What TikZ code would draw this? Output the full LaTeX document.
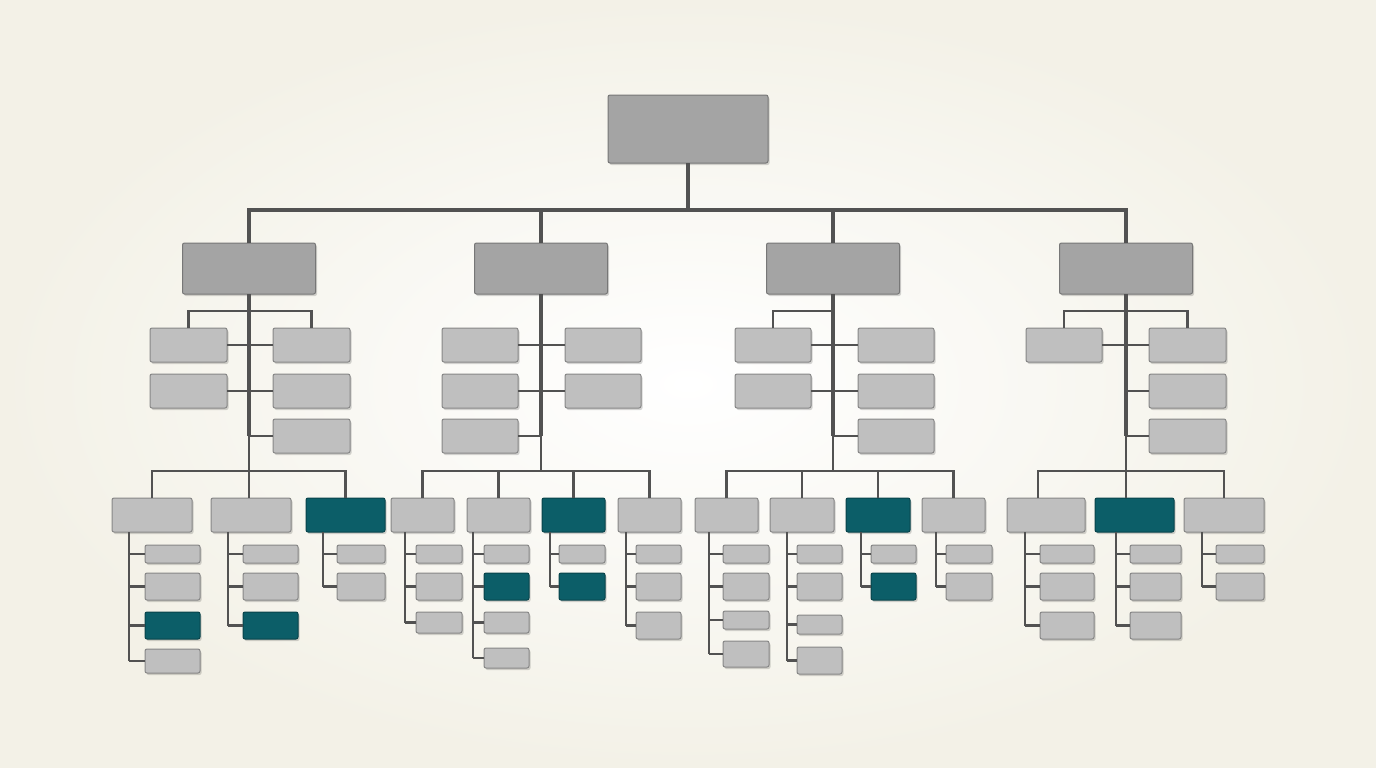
\documentclass[tikz,border=0pt]{standalone}
\usetikzlibrary{shadows}
\definecolor{bgout}{HTML}{F3F1E7}
\definecolor{topfill}{HTML}{A4A4A4}
\definecolor{topdraw}{HTML}{777777}
\definecolor{gfill}{HTML}{BFBFBF}
\definecolor{gdraw}{HTML}{878787}
\definecolor{tfill}{HTML}{0C5E68}
\definecolor{tdraw}{HTML}{08434A}
\definecolor{wirec}{HTML}{525252}
\newcommand\mkbox[6]{\node[#2, minimum width={(#5)-(#3)}, minimum height={(#6)-(#4)}] (#1) at ({(#3+#5)/2},{(#4+#6)/2}) {};}
\begin{document}
\begin{tikzpicture}[x=1pt,y=-1pt,
  box/.style={draw, rounded corners=2pt, line width=1pt, inner sep=0pt, outer sep=0pt,
    drop shadow={shadow xshift=1.5pt, shadow yshift=-2pt, opacity=0.16, fill=black}},
  topbox/.style={box, fill=topfill, draw=topdraw},
  gbox/.style={box, fill=gfill, draw=gdraw},
  tbox/.style={box, fill=tfill, draw=tdraw},
  wire/.style={draw=wirec, line width=2.1pt},
  trunk/.style={draw=wirec, line width=3.1pt}]
\useasboundingbox (0,0) rectangle (1376,768);
\shade[inner color=white, outer color=bgout] (0,0) rectangle (1376,768);

% ---------- root and level 1
\mkbox{root}{topbox}{608}{95}{768}{163}
\mkbox{p1}{topbox}{182.5}{243}{315.5}{294}
\mkbox{p2}{topbox}{474.5}{243}{607.5}{294}
\mkbox{p3}{topbox}{766.5}{243}{899.5}{294}
\mkbox{p4}{topbox}{1059.5}{243}{1192.5}{294}

% ---------- middle children
\mkbox{m1l1}{gbox}{150}{328}{227}{362}
\mkbox{m1l2}{gbox}{150}{374}{227}{408}
\mkbox{m1r1}{gbox}{273}{328}{350}{362}
\mkbox{m1r2}{gbox}{273}{374}{350}{408}
\mkbox{m1r3}{gbox}{273}{419}{350}{453}

\mkbox{m2l1}{gbox}{442}{328}{518}{362}
\mkbox{m2l2}{gbox}{442}{374}{518}{408}
\mkbox{m2l3}{gbox}{442}{419}{518}{453}
\mkbox{m2r1}{gbox}{565}{328}{641}{362}
\mkbox{m2r2}{gbox}{565}{374}{641}{408}

\mkbox{m3l1}{gbox}{735}{328}{811}{362}
\mkbox{m3l2}{gbox}{735}{374}{811}{408}
\mkbox{m3r1}{gbox}{858}{328}{934}{362}
\mkbox{m3r2}{gbox}{858}{374}{934}{408}
\mkbox{m3r3}{gbox}{858}{419}{934}{453}

\mkbox{m4l1}{gbox}{1026}{328}{1102}{362}
\mkbox{m4r1}{gbox}{1149}{328}{1226}{362}
\mkbox{m4r2}{gbox}{1149}{374}{1226}{408}
\mkbox{m4r3}{gbox}{1149}{419}{1226}{453}

% ---------- level 2
\mkbox{q1a}{gbox}{112}{498}{192}{532}
\mkbox{q1b}{gbox}{211}{498}{291}{532}
\mkbox{q1c}{tbox}{306}{498}{385}{532}
\mkbox{q2a}{gbox}{391}{498}{454}{532}
\mkbox{q2b}{gbox}{467}{498}{530}{532}
\mkbox{q2c}{tbox}{542}{498}{605}{532}
\mkbox{q2d}{gbox}{618}{498}{681}{532}
\mkbox{q3a}{gbox}{695}{498}{758}{532}
\mkbox{q3b}{gbox}{770}{498}{834}{532}
\mkbox{q3c}{tbox}{846}{498}{910}{532}
\mkbox{q3d}{gbox}{922}{498}{985}{532}
\mkbox{q4a}{gbox}{1007}{498}{1085}{532}
\mkbox{q4b}{tbox}{1095}{498}{1174}{532}
\mkbox{q4c}{gbox}{1184}{498}{1264}{532}

% ---------- leaves
\mkbox{x1a1}{gbox}{145}{545}{200}{563}
\mkbox{x1a2}{gbox}{145}{573}{200}{600}
\mkbox{x1a3}{tbox}{145}{612}{200}{639}
\mkbox{x1a4}{gbox}{145}{649}{200}{673}
\mkbox{x1b1}{gbox}{243}{545}{298}{563}
\mkbox{x1b2}{gbox}{243}{573}{298}{600}
\mkbox{x1b3}{tbox}{243}{612}{298}{639}
\mkbox{x1c1}{gbox}{337}{545}{385}{563}
\mkbox{x1c2}{gbox}{337}{573}{385}{600}

\mkbox{x2a1}{gbox}{416}{545}{462}{563}
\mkbox{x2a2}{gbox}{416}{573}{462}{600}
\mkbox{x2a3}{gbox}{416}{612}{462}{633}
\mkbox{x2b1}{gbox}{484}{545}{529}{563}
\mkbox{x2b2}{tbox}{484}{573}{529}{600}
\mkbox{x2b3}{gbox}{484}{612}{529}{633}
\mkbox{x2b4}{gbox}{484}{648}{529}{668}
\mkbox{x2c1}{gbox}{559}{545}{605}{563}
\mkbox{x2c2}{tbox}{559}{573}{605}{600}
\mkbox{x2d1}{gbox}{636}{545}{681}{563}
\mkbox{x2d2}{gbox}{636}{573}{681}{600}
\mkbox{x2d3}{gbox}{636}{612}{681}{639}

\mkbox{x3a1}{gbox}{723}{545}{769}{563}
\mkbox{x3a2}{gbox}{723}{573}{769}{600}
\mkbox{x3a3}{gbox}{723}{611}{769}{629}
\mkbox{x3a4}{gbox}{723}{641}{769}{667}
\mkbox{x3b1}{gbox}{797}{545}{842}{563}
\mkbox{x3b2}{gbox}{797}{573}{842}{600}
\mkbox{x3b3}{gbox}{797}{615}{842}{634}
\mkbox{x3b4}{gbox}{797}{647}{842}{674}
\mkbox{x3c1}{gbox}{871}{545}{916}{563}
\mkbox{x3c2}{tbox}{871}{573}{916}{600}
\mkbox{x3d1}{gbox}{946}{545}{992}{563}
\mkbox{x3d2}{gbox}{946}{573}{992}{600}

\mkbox{x4a1}{gbox}{1040}{545}{1094}{563}
\mkbox{x4a2}{gbox}{1040}{573}{1094}{600}
\mkbox{x4a3}{gbox}{1040}{612}{1094}{639}
\mkbox{x4b1}{gbox}{1130}{545}{1181}{563}
\mkbox{x4b2}{gbox}{1130}{573}{1181}{600}
\mkbox{x4b3}{gbox}{1130}{612}{1181}{639}
\mkbox{x4c1}{gbox}{1216}{545}{1264}{563}
\mkbox{x4c2}{gbox}{1216}{573}{1264}{600}

% ---------- connectors: root to level 1
\coordinate (bus0) at (688,210);
\draw[trunk] (root.south) -- (bus0);
\draw[trunk] (p1.north) -- (p1.north |- bus0) -- (p4.north |- bus0) -- (p4.north);
\draw[trunk] (p2.north) -- (p2.north |- bus0);
\draw[trunk] (p3.north) -- (p3.north |- bus0);

% ---------- trunks of the four branches
\foreach \i in {1,2,3,4}{
  \path (p\i.south) ++(0,17) coordinate (k\i);
  \path (p\i.south) ++(0,142) coordinate (e\i);
  \path (p\i.south) ++(0,177) coordinate (t\i);
  \draw[trunk] (p\i.south) -- (e\i);
  \draw[wire] (e\i) -- (t\i);
}

% brackets
\draw[wire] (m1l1.north) |- (k1) -| (m1r1.north);
\draw[wire] (m3l1.north) |- (k3);
\draw[wire] (m4l1.north) |- (k4) -| (m4r1.north);

% middle connectors
\foreach \n in {m1l1,m1l2} \draw[wire] (\n.east) -- (\n.east -| p1.south);
\foreach \n in {m1r1,m1r2,m1r3} \draw[wire] (\n.west) -- (\n.west -| p1.south);
\foreach \n in {m2l1,m2l2,m2l3} \draw[wire] (\n.east) -- (\n.east -| p2.south);
\foreach \n in {m2r1,m2r2} \draw[wire] (\n.west) -- (\n.west -| p2.south);
\foreach \n in {m3l1,m3l2} \draw[wire] (\n.east) -- (\n.east -| p3.south);
\foreach \n in {m3r1,m3r2,m3r3} \draw[wire] (\n.west) -- (\n.west -| p3.south);
\foreach \n in {m4l1} \draw[wire] (\n.east) -- (\n.east -| p4.south);
\foreach \n in {m4r1,m4r2,m4r3} \draw[wire] (\n.west) -- (\n.west -| p4.south);

% level-2 buses
\draw[wire] (q1a.north) |- (t1) -| (q1c.north);
\draw[wire] (t1) -- (t1 |- q1b.north);
\draw[wire] (q2a.north) |- (t2) -| (q2d.north);
\draw[wire] (q2b.north) -- (q2b.north |- t2);
\draw[wire] (q2c.north) -- (q2c.north |- t2);
\draw[wire] (q3a.north) |- (t3) -| (q3d.north);
\draw[wire] (q3b.north) -- (q3b.north |- t3);
\draw[wire] (q3c.north) -- (q3c.north |- t3);
\coordinate (d4a) at (1038,0);
\draw[wire] (q4a.north -| d4a) |- (t4) -| (q4c.north);
\draw[wire] (t4) -- (t4 |- q4b.north);

% leaf columns
\coordinate (v1a) at (129,0);  \coordinate (v1b) at (228,0);  \coordinate (v1c) at (323,0);
\coordinate (v2a) at (405,0);  \coordinate (v2b) at (473,0);  \coordinate (v2c) at (550,0);  \coordinate (v2d) at (626,0);
\coordinate (v3a) at (709,0);  \coordinate (v3b) at (787,0);  \coordinate (v3c) at (861,0);  \coordinate (v3d) at (936,0);
\coordinate (v4a) at (1025,0); \coordinate (v4b) at (1116,0); \coordinate (v4c) at (1202,0);

\foreach \p/\last/\kids in {
  1a/4/{1,2,3,4}, 1b/3/{1,2,3}, 1c/2/{1,2},
  2a/3/{1,2,3}, 2b/4/{1,2,3,4}, 2c/2/{1,2}, 2d/3/{1,2,3},
  3a/4/{1,2,3,4}, 3b/4/{1,2,3,4}, 3c/2/{1,2}, 3d/2/{1,2},
  4a/3/{1,2,3}, 4b/3/{1,2,3}, 4c/2/{1,2}}{
  \draw[wire] (q\p.south -| v\p) -- (v\p |- x\p\last.west);
  \foreach \k in \kids \draw[wire] (x\p\k.west) -- (x\p\k.west -| v\p);
}
\end{tikzpicture}
\end{document}
